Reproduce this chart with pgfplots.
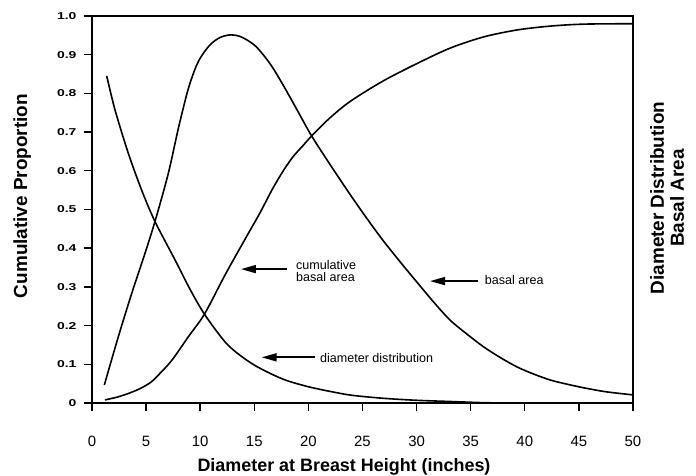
\documentclass[border=0pt]{standalone}
\usepackage{graphicx}
\usepackage{pgfplots}
\pgfplotsset{compat=1.18}
\usepackage{fontspec}
\setmainfont{Liberation Sans}
\usetikzlibrary{arrows.meta}

\pgfplotstableread{
x y
1.36 0.845
2.13 0.757
3.36 0.645
4.59 0.550
5.82 0.469
7.67 0.370
9.0 0.297
10.38 0.230
12.29 0.158
13.6 0.125
15.0 0.098
16.5 0.076
18.0 0.058
20.0 0.042
22.0 0.030
24.0 0.020
27.0 0.012
30.0 0.007
33.0 0.004
36.0 0.001
38.0 0.0
}\diamdist

\pgfplotstableread{
x y
1.14 0.0465
2.43 0.171
3.67 0.283
4.9 0.387
5.82 0.469
7.05 0.593
8.0 0.712
8.9 0.812
9.67 0.873
10.3 0.904
11.0 0.928
11.8 0.944
12.7 0.951
13.6 0.948
14.5 0.935
15.3 0.917
16.5 0.875
17.7 0.82
19.0 0.755
20.3 0.69
22.1 0.612
23.9 0.537
25.4 0.477
26.9 0.42
28.5 0.364
30.1 0.31
31.6 0.26
33.1 0.214
34.7 0.177
36.2 0.145
37.7 0.118
39.3 0.093
40.8 0.075
42.4 0.059
44.0 0.048
45.5 0.039
47.5 0.029
50.0 0.021
}\basal

\pgfplotstableread{
x y
1.2 0.008
2.3 0.015
3.4 0.025
4.5 0.038
5.5 0.055
6.4 0.08
7.4 0.111
8.9 0.171
10.4 0.23
12.3 0.331
14.2 0.426
15.5 0.49
16.7 0.554
17.7 0.601
18.6 0.637
19.5 0.665
20.3 0.69
22.0 0.737
23.9 0.78
26.9 0.832
30.1 0.878
33.1 0.917
36.2 0.946
39.3 0.964
42.4 0.974
45.5 0.979
50.0 0.98
}\cumba

\begin{document}
\begin{tikzpicture}
\useasboundingbox (-92bp,-73bp) rectangle (604bp,403bp);
\begin{axis}[
  at={(0,0)}, anchor=south west,
  scale only axis, width=541bp, height=387bp,
  xmin=0, xmax=50, ymin=0, ymax=1,
  axis line style={line width=1.6bp},
  xtick={0,5,10,15,20,25,30,35,40,45,50},
  ytick={0,0.1,0.2,0.3,0.4,0.5,0.6,0.7,0.8,0.9,1.0},
  yticklabels={\scalebox{1.4}[1]{0},\scalebox{1.4}[1]{0.1},\scalebox{1.4}[1]{0.2},\scalebox{1.4}[1]{0.3},\scalebox{1.4}[1]{0.4},\scalebox{1.4}[1]{0.5},\scalebox{1.4}[1]{0.6},\scalebox{1.4}[1]{0.7},\scalebox{1.4}[1]{0.8},\scalebox{1.4}[1]{0.9},\scalebox{1.4}[1]{1.0}},
  xtick pos=bottom, ytick pos=left,
  xtick align=outside, ytick align=outside,
  major tick length=8bp,
  every tick/.append style={line width=1.4bp, black},
  /pgf/number format/assume math mode=true,
  xticklabel style={font=\fontsize{15}{18}\selectfont, yshift=-22bp},
  yticklabel style={font=\bfseries\fontsize{10}{12}\selectfont, xshift=-4bp},
  clip=false,
]
\addplot[line width=1.6bp, smooth, tension=0.5] table[x=x,y=y] {\diamdist};
\addplot[line width=1.6bp, smooth, tension=0.5] table[x=x,y=y] {\basal};
\addplot[line width=1.6bp, smooth, tension=0.5] table[x=x,y=y] {\cumba};

\draw[line width=1.8bp, -{Triangle[length=15bp,width=8bp]}] (axis cs:18.02,0.346) -- (axis cs:13.77,0.346);
\node[anchor=base west, inner sep=0, font=\fontsize{12.6}{13}\selectfont] at (axis cs:18.85,0.346) {cumulative};
\node[anchor=base west, inner sep=0, font=\fontsize{12.6}{13}\selectfont] at (axis cs:18.85,0.3127) {basal area};

\draw[line width=1.8bp, -{Triangle[length=15bp,width=8bp]}] (axis cs:35.7,0.315) -- (axis cs:31.24,0.315);
\node[anchor=base west, inner sep=0, font=\fontsize{12.6}{13}\selectfont] at (axis cs:36.3,0.305) {basal area};

\draw[line width=1.8bp, -{Triangle[length=15bp,width=8bp]}] (axis cs:20.6,0.118) -- (axis cs:15.68,0.118);
\node[anchor=base west, inner sep=0, font=\fontsize{12.6}{13}\selectfont] at (axis cs:21.07,0.105) {diameter distribution};

\node[anchor=base, inner sep=0, font=\bfseries\fontsize{18}{20}\selectfont] at (axis description cs:0.4658,-0.1757) {Diameter at Breast Height (inches)};
\node[anchor=base, rotate=90, inner sep=0, font=\bfseries\fontsize{19}{21}\selectfont] at (axis description cs:-0.1201,0.5349) {Cumulative Proportion};
\node[anchor=base, rotate=90, inner sep=0, font=\bfseries\fontsize{19}{21}\selectfont] at (axis description cs:1.057,0.5297) {Diameter Distribution};
\node[anchor=base, rotate=90, inner sep=0, font=\bfseries\fontsize{19}{21}\selectfont] at (axis description cs:1.094,0.5297) {Basal Area};
\end{axis}
\end{tikzpicture}
\end{document}
